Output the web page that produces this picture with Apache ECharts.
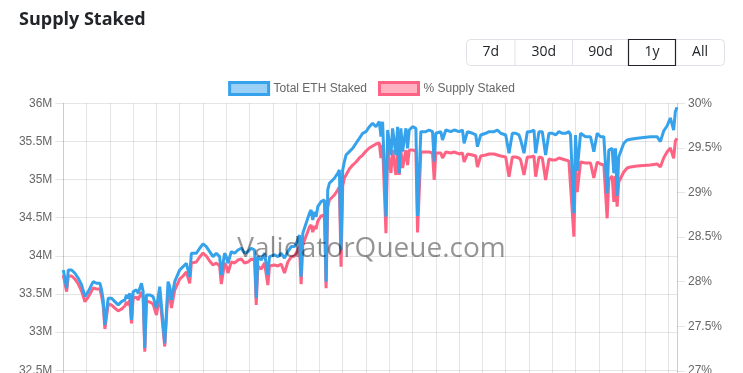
<!DOCTYPE html>
<html><head><meta charset="utf-8">
<script src="https://cdn.jsdelivr.net/npm/echarts@6/dist/echarts.min.js"></script>
<style>
html,body{margin:0;padding:0;background:#fff;overflow:hidden;width:743px;height:373px}
#chart{width:743px;height:440px}
</style>
</head><body><div id="chart"></div>
<script>
// day index within the 1y window
const days = [
0,1,2,3,5,7,9,11,13,15,
17,18,20,22,23,24,25,27,29,31,
33,35,37,38,39,40,41,42,44,45,
47,48,49,50,52,54,56,58,59,61,
63,64,65,67,70,72,74,76,77,78,
80,82,84,86,88,90,92,94,95,97,
98,99,101,103,105,107,109,111,113,115,
116,117,119,121,123,124,125,127,129,131,
133,135,137,139,141,142,143,144,146,148,
149,150,151,152,153,155,157,158,159,160,
161,163,165,166,167,168,169,170,172,174,
176,178,180,182,184,186,188,190,191,192,
194,195,197,198,200,201,202,203,204,206,
207,208,210,212,213,215,218,220,222,223,
224,227,228,230,233,235,238,240,241,243,
246,248,249,251,254,256,259,261,263,266,
268,270,272,274,275,277,279,281,283,284,
286,288,290,292,294,296,298,300,302,304,
305,307,308,309,311,314,317,319,321,323,
325,326,327,328,330,331,332,333,334,337,
339,341,345,349,353,357,359,361,363,365,
367,368,369
];
// Total ETH staked, millions
const totalStaked = [
33.815,33.837,33.575,33.815,33.815,33.772,33.706,33.619,33.465,33.531,
33.619,33.662,33.641,33.641,33.553,33.422,33.094,33.444,33.444,33.400,
33.357,33.400,33.422,33.488,33.444,33.510,33.160,33.531,33.553,33.510,
33.641,33.531,32.793,33.488,33.488,33.465,33.313,33.596,33.596,32.854,
33.662,33.596,33.422,33.662,33.815,33.858,33.903,33.723,34.034,34.055,
34.034,34.100,34.156,34.121,34.055,33.990,34.034,33.990,33.750,34.034,
33.990,33.903,34.055,34.034,34.077,34.100,34.034,34.055,34.100,34.077,
33.448,33.990,33.946,34.034,33.750,33.990,33.969,34.012,33.990,34.034,
33.970,34.055,34.121,34.121,34.208,34.274,33.727,34.296,34.427,34.558,
34.602,34.471,34.579,34.514,34.645,34.710,34.733,33.662,34.864,34.952,
34.972,35.017,35.083,35.126,34.077,35.126,35.235,35.322,35.366,35.410,
35.476,35.541,35.607,35.628,35.693,35.738,35.693,35.759,35.562,35.759,
34.514,35.650,35.322,35.672,35.322,35.693,35.083,35.672,35.366,35.672,
35.410,35.650,35.693,35.672,34.523,35.628,35.628,35.650,35.628,35.235,
35.607,35.628,35.519,35.650,35.628,35.650,35.628,35.650,35.476,35.628,
35.607,35.585,35.431,35.585,35.607,35.628,35.628,35.650,35.607,35.585,
35.345,35.607,35.607,35.585,35.519,35.345,35.628,35.628,35.650,35.345,
35.628,35.628,35.322,35.607,35.607,35.585,35.628,35.607,35.607,35.628,
35.585,34.558,35.585,35.113,35.607,35.562,35.562,35.366,35.607,35.562,
35.562,35.562,34.820,35.388,35.410,35.083,35.410,34.785,35.300,35.476,
35.519,35.528,35.541,35.552,35.562,35.562,35.497,35.637,35.702,35.807,
35.650,35.890,35.948
];
// % of supply staked
const pctStaked = [
28.075,28.086,27.888,28.064,28.064,28.030,27.974,27.896,27.776,27.828,
27.896,27.929,27.918,27.918,27.840,27.728,27.470,27.750,27.739,27.705,
27.672,27.694,27.728,27.772,27.739,27.795,27.534,27.817,27.828,27.795,
27.884,27.817,27.215,27.784,27.772,27.750,27.627,27.851,27.851,27.274,
27.907,27.840,27.705,27.907,28.030,28.064,28.109,27.982,28.210,28.232,
28.221,28.277,28.322,28.288,28.232,28.187,28.210,28.176,27.974,28.210,
28.176,28.098,28.221,28.210,28.243,28.254,28.210,28.221,28.254,28.243,
27.739,28.176,28.142,28.210,27.963,28.176,28.165,28.187,28.176,28.198,
28.098,28.221,28.277,28.288,28.355,28.400,27.971,28.411,28.512,28.613,
28.636,28.557,28.624,28.591,28.680,28.737,28.748,27.926,28.837,28.916,
28.938,28.972,29.028,29.062,28.168,29.073,29.163,29.196,29.263,29.308,
29.342,29.387,29.420,29.465,29.499,29.521,29.544,29.555,29.387,29.533,
28.543,29.476,29.219,29.476,29.196,29.476,29.196,29.476,29.275,29.476,
29.308,29.476,29.476,29.465,28.552,29.454,29.454,29.454,29.443,29.140,
29.443,29.443,29.387,29.454,29.443,29.454,29.432,29.443,29.342,29.432,
29.420,29.409,29.286,29.409,29.420,29.432,29.432,29.420,29.409,29.398,
29.177,29.398,29.398,29.387,29.364,29.196,29.398,29.398,29.409,29.177,
29.398,29.387,29.140,29.376,29.364,29.364,29.387,29.376,29.364,29.353,
29.342,28.504,29.331,29.006,29.342,29.331,29.331,29.163,29.342,29.320,
29.308,29.297,28.711,29.140,29.185,28.894,29.185,28.841,29.121,29.230,
29.275,29.286,29.297,29.303,29.308,29.320,29.286,29.387,29.454,29.499,
29.383,29.577,29.608
];
const leftTicks = [32,32.5,33,33.5,34,34.5,35,35.5,36];
const rightTicks = [27,27.5,28,28.5,29,29.5,30];
const ranges = ['7d','30d','90d','1y','All'];
const activeRange = '1y';

const chart = echarts.init(document.getElementById('chart'), null, {renderer:'canvas'});
const grid = 'rgba(0,0,0,0.1)';

// range buttons
const btnEdges = [466.5, 515, 572.5, 628.5, 675.5, 724.5];
const btnTop = 39.5, btnH = 26;
const graphics = [{
  type:'rect', shape:{x:btnEdges[0], y:btnTop, width:btnEdges[5]-btnEdges[0], height:btnH, r:4},
  style:{fill:'#fff', stroke:'#dee2e6', lineWidth:1}, z:10
}];
ranges.forEach((r,i)=>{
  const x0 = btnEdges[i], x1 = btnEdges[i+1];
  if (i>0) {
    graphics.push({type:'line', shape:{x1:x0, y1:btnTop, x2:x0, y2:btnTop+btnH}, style:{stroke:'#dee2e6', lineWidth:1}, z:10});
  }
  if (r === activeRange) {
    graphics.push({type:'rect', shape:{x:x0, y:btnTop, width:x1-x0, height:btnH}, style:{fill:'#fff', stroke:'#212529', lineWidth:1.2}, z:11});
  }
  graphics.push({type:'text', x:(x0+x1)/2, y:btnTop+btnH/2, style:{text:r, font:'14px "Open Sans"', fill:'#212529', align:'center', verticalAlign:'middle'}, z:12});
});
graphics.push({type:'text', x:371.5, y:249, style:{text:'ValidatorQueue.com', font:'28px "Open Sans"', fill:'rgba(0,0,0,0.42)', align:'center', verticalAlign:'middle'}, z:100});

chart.setOption({
  animation:false,
  backgroundColor:'#fff',
  title:{text:'Supply Staked', left:14, top:6, textStyle:{fontSize:18, fontWeight:700, color:'#212529', fontFamily:'Open Sans'}},
  legend:{
    top:76, left:'center', icon:'rect', itemWidth:39, itemHeight:12, itemGap:11,
    textStyle:{color:'#666', fontSize:12, fontFamily:'Liberation Sans'},
    data:[
      {name:'Total ETH Staked', itemStyle:{color:'rgba(54,162,235,0.5)', borderColor:'#36a2eb', borderWidth:3}},
      {name:'% Supply Staked', itemStyle:{color:'rgba(255,99,132,0.5)', borderColor:'#ff6384', borderWidth:3}}
    ]
  },
  grid:{left:63.3, right:66, top:103.3, bottom:31.6},
  xAxis:{type:'value', min:0, max:369, interval:14,
    axisLabel:{show:false}, axisTick:{show:false}, axisLine:{show:false},
    splitLine:{show:true, lineStyle:{color:grid, width:1}}},
  yAxis:[
    {type:'value', position:'left', min:leftTicks[0], max:leftTicks[leftTicks.length-1], interval:0.5,
     axisLine:{show:true, lineStyle:{color:grid}},
     axisTick:{show:true, length:8, lineStyle:{color:grid}},
     axisLabel:{color:'#666', fontSize:12, fontFamily:'Liberation Sans', margin:11, formatter:v=>v+'M'},
     splitLine:{show:true, lineStyle:{color:grid}}},
    {type:'value', position:'right', min:26.58, max:30,
     axisLine:{show:true, lineStyle:{color:grid}},
     axisTick:{show:true, length:8, lineStyle:{color:grid}, customValues:rightTicks},
     axisLabel:{color:'#666', fontSize:12, fontFamily:'Liberation Sans', margin:11, customValues:rightTicks, formatter:v=>v+'%'},
     splitLine:{show:false}}
  ],
  series:[
    {name:'Total ETH Staked', type:'line', yAxisIndex:0, symbol:'none', showSymbol:false, z:3,
     data:days.map((d,i)=>[d,totalStaked[i]]),
     lineStyle:{color:'#36a2eb', width:3}, itemStyle:{color:'#36a2eb'}},
    {name:'% Supply Staked', type:'line', yAxisIndex:1, symbol:'none', showSymbol:false, z:2,
     data:days.map((d,i)=>[d,pctStaked[i]]),
     lineStyle:{color:'#ff6384', width:3}, itemStyle:{color:'#ff6384'}}
  ],
  graphic:graphics
});
</script>
</body></html>
